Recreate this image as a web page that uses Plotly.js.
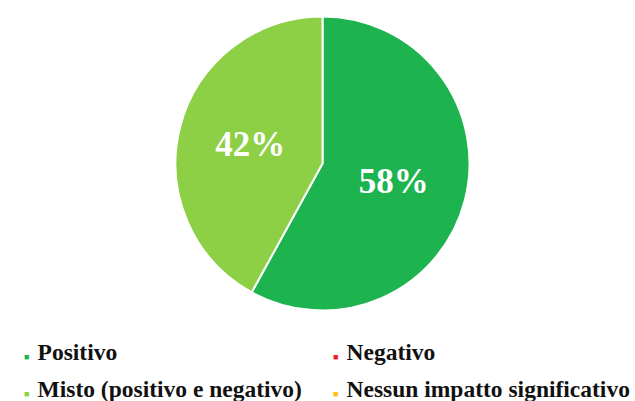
<!DOCTYPE html>
<html>
<head>
<meta charset="utf-8">
<script src="https://cdn.plot.ly/plotly-3.0.1.min.js"></script>
<style>
html,body{margin:0;padding:0;background:#fff;}
#chart{width:635px;height:401px;}
</style>
</head>
<body>
<div id="chart"></div>
<script>
const categories = ["Positivo", "Negativo", "Misto (positivo e negativo)", "Nessun impatto significativo"];
const shares = [58, 0, 42, 0];
const colors = ["#1DB34E", "#EE1C25", "#8DCF45", "#FFC20E"];

const pieLabels = [], pieValues = [], pieColors = [];
categories.forEach((c, i) => {
  if (shares[i] > 0) { pieLabels.push(c); pieValues.push(shares[i]); pieColors.push(colors[i]); }
});

const serif = "Liberation Serif";

const trace = {
  type: "pie",
  labels: pieLabels,
  values: pieValues,
  sort: false,
  direction: "clockwise",
  rotation: 0,
  marker: {colors: pieColors, line: {color: "#ffffff", width: 2}},
  textinfo: "percent",
  textposition: "inside",
  insidetextorientation: "horizontal",
  insidetextfont: {family: serif, size: 35, color: "#ffffff", weight: "bold"},
  hoverinfo: "label+percent",
  showlegend: false,
  domain: {x: [0.2764, 0.7394], y: [0.2257, 0.9589]}
};

// Legend drawn as annotations, 2 columns x 2 rows
const colX = [22, 331];
const rowY = [352, 389];
const annotations = [];
categories.forEach((c, i) => {
  const col = i % 2, row = Math.floor(i / 2);
  annotations.push({
    xref: "paper", yref: "paper",
    x: colX[col] / 635, y: 1 - rowY[row] / 401,
    xanchor: "left", yanchor: "middle",
    showarrow: false,
    text: '<span style="color:' + colors[i] + ';font-size:9px">■&nbsp;</span> ' + c,
    font: {family: serif, size: 23.5, color: "#111111", weight: "bold"}
  });
});

const layout = {
  width: 635, height: 401,
  margin: {l: 0, r: 0, t: 0, b: 0},
  paper_bgcolor: "#ffffff",
  plot_bgcolor: "#ffffff",
  showlegend: false,
  annotations: annotations
};

Plotly.newPlot("chart", [trace], layout, {displayModeBar: false, staticPlot: true});
</script>
</body>
</html>
